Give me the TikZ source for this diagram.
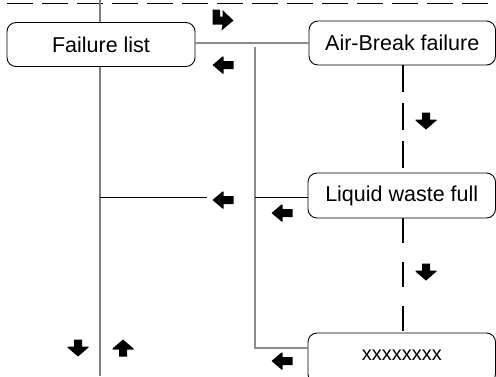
\documentclass[tikz,border=0pt]{standalone}
\usepackage{fontspec}
\setmainfont{Liberation Sans}
\begin{document}
\begin{tikzpicture}[x=1pt,y=-1pt,
  box/.style={draw=black,line width=0.9pt,rounded corners=9pt,
    minimum width=187pt,minimum height=44pt,inner sep=0pt,
    font=\fontsize{21.5}{24}\selectfont},
  wire/.style={draw=black,line width=0.9pt},
  greywire/.style={draw=gray!90,line width=1.2pt},
  trunk/.style={draw=gray,line width=2.2pt},
  dashwire/.style={draw=black,line width=1.1pt},
  leftarrow/.pic={\fill[black] (-10.5,0) -- (-0.5,-8.5) -- (0.5,-8.5) -- (0.5,-4)
      -- (10.5,-4) -- (10.5,4) -- (0.5,4) -- (0.5,8.5) -- (-0.5,8.5) -- cycle;},
  downarrow/.pic={\fill[black] (0,8.5) -- (10.5,-0.5) -- (10.5,-1.5) -- (4,-1.5)
      -- (4,-8.5) -- (-4,-8.5) -- (-4,-1.5) -- (-10.5,-1.5) -- (-10.5,-0.5) -- cycle;},
  uparrow/.pic={\fill[black] (0,-8.5) -- (10.5,0.5) -- (10.5,1.5) -- (4,1.5)
      -- (4,8.5) -- (-4,8.5) -- (-4,1.5) -- (-10.5,1.5) -- (-10.5,0.5) -- cycle;},
  bentarrow/.pic={\fill[black] (-10.5,-10.5) -- (-3,-10.5) -- (-3,-3.5)
      -- (-0.5,-3.5) -- (-0.5,-10) -- (10.5,0.5) -- (-1.5,10.5) -- (-0.5,4.5)
      -- (-10.5,4.5) -- cycle;}]
\useasboundingbox (0,0) rectangle (496,376);

% top border, dashed
\coordinate (tl) at (0,3);
\coordinate (tr) at (496,3);
\draw[dashwire,line width=1pt,dash pattern=on 26pt off 9pt,dash phase=28pt] (tl) -- (tr);

% boxes
\node[box,minimum width=188pt] (fail) at (101,44.5) {Failure list};
\node[box,minimum width=186.5pt] (air) at (402.25,43) {Air-Break failure};
\node[box,minimum width=187.5pt,minimum height=45pt] (liq) at (401.75,195.5) {Liquid waste full};
\node[box,minimum width=187.5pt,minimum height=50pt,
      font=\fontsize{20}{22}\selectfont] (xb) at (401.75,358) {\raisebox{5pt}{xxxxxxxx}};

% main trunk on the left
\coordinate (ttop) at (100,0);
\coordinate (tbot) at (100,376);
\draw[trunk] (ttop) -- (fail.north -| ttop);
\draw[trunk] (fail.south -| ttop) -- (tbot);

% link between the two upper boxes
\draw[greywire] (air.west) -- (air.west -| fail.east);

% return bus
\coordinate (bus) at (255,47);
\coordinate (busend) at (255,348);
\coordinate (xin) at (xb.west |- busend);
\draw[greywire] (bus) -- (busend) -- (xin);
\coordinate (lin) at (liq.west |- 0,197);
\draw[wire] (lin) -- (lin -| bus);
\coordinate (tap) at (100,197);
\coordinate (tapend) at (207,197);
\draw[wire] (tap) -- (tapend);

% dashed flow between the right boxes
\draw[dashwire,dash pattern=on 27pt off 11pt] (air.south -| 403,0) -- (liq.north -| 403,0);
\draw[dashwire,dash pattern=on 25pt off 19pt] (liq.south -| 403,0) -- (xb.north -| 403,0);

% direction markers
\pic at (223,20) {bentarrow};
\pic at (223,65) {leftarrow};
\pic at (223,200) {leftarrow};
\pic at (282,213) {leftarrow};
\pic at (282,361) {leftarrow};
\pic at (426,121) {downarrow};
\pic at (426,272) {downarrow};
\pic at (78,348) {downarrow};
\pic at (123,348) {uparrow};
\end{tikzpicture}
\end{document}
